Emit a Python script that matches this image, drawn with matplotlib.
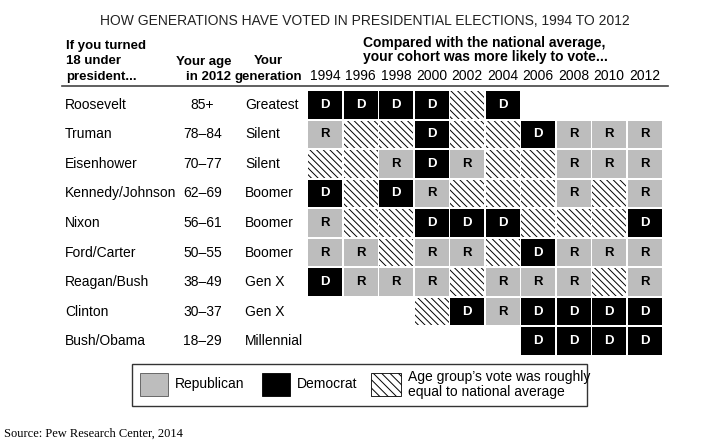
import matplotlib
matplotlib.use("Agg")
import matplotlib.pyplot as plt
from matplotlib.patches import Rectangle
from matplotlib.transforms import blended_transform_factory

# data: R = Republican, D = Democrat, E = roughly equal, '' = no data
years = ['1994', '1996', '1998', '2000', '2002', '2004', '2006', '2008', '2010', '2012']
presidents = ['Roosevelt', 'Truman', 'Eisenhower', 'Kennedy/Johnson', 'Nixon',
              'Ford/Carter', 'Reagan/Bush', 'Clinton', 'Bush/Obama']
ages = ['85+', '78\u201384', '70\u201377', '62\u201369', '56\u201361',
        '50\u201355', '38\u201349', '30\u201337', '18\u201329']
generations = ['Greatest', 'Silent', 'Silent', 'Boomer', 'Boomer',
               'Boomer', 'Gen X', 'Gen X', 'Millennial']
votes = [
    ['D', 'D', 'D', 'D', 'E', 'D', '', '', '', ''],
    ['R', 'E', 'E', 'D', 'E', 'E', 'D', 'R', 'R', 'R'],
    ['E', 'E', 'R', 'D', 'R', 'E', 'E', 'R', 'R', 'R'],
    ['D', 'E', 'D', 'R', 'E', 'E', 'E', 'R', 'E', 'R'],
    ['R', 'E', 'E', 'D', 'D', 'D', 'E', 'E', 'E', 'D'],
    ['R', 'R', 'E', 'R', 'R', 'E', 'D', 'R', 'R', 'R'],
    ['D', 'R', 'R', 'R', 'E', 'R', 'R', 'R', 'E', 'R'],
    ['', '', '', 'E', 'D', 'R', 'D', 'D', 'D', 'D'],
    ['', '', '', '', '', '', 'D', 'D', 'D', 'D'],
]

GRAY = '#bdbdbd'
HATCH = '\\\\\\\\\\'
W, H = 715, 442

plt.rcParams['font.family'] = ['Liberation Sans', 'DejaVu Sans']
plt.rcParams['hatch.linewidth'] = 0.7

fig = plt.figure(figsize=(W / 100, H / 100), dpi=100)


# pixel helpers for the text layout
def fx(px):
    return px / W


def fy(py):
    return 1 - py / H


# grid axes: columns are years, rows are cohorts
ax = fig.add_axes([fx(307.5), fy(356), (662.5 - 307.5) / W, (356 - 90) / H])
ax.set_xlim(-0.5, len(years) - 0.5)
ax.set_ylim(len(presidents) - 0.5, -0.5)
ax.axis('off')

cw, ch = 0.945, 0.93
for i, row in enumerate(votes):
    for j, v in enumerate(row):
        if v == '':
            continue
        if v == 'E':
            ax.add_patch(Rectangle((j - cw / 2, i - ch / 2), cw, ch, facecolor='white',
                                   edgecolor='black', linewidth=0, hatch=HATCH))
        else:
            fc = 'black' if v == 'D' else GRAY
            tc = 'white' if v == 'D' else 'black'
            ax.add_patch(Rectangle((j - cw / 2, i - ch / 2), cw, ch, facecolor=fc,
                                   edgecolor='none'))
            ax.text(j, i, v, ha='center', va='center', fontsize=9.5,
                    fontweight='bold', color=tc)

# row labels in figure-x / data-y coordinates
tr = blended_transform_factory(fig.transFigure, ax.transData)
for i in range(len(presidents)):
    ax.text(fx(65), i, presidents[i], transform=tr, ha='left', va='center', fontsize=10)
    ax.text(fx(202.5), i, ages[i], transform=tr, ha='center', va='center', fontsize=10)
    ax.text(fx(245), i, generations[i], transform=tr, ha='left', va='center', fontsize=10)

# year header
trx = blended_transform_factory(ax.transData, fig.transFigure)
for j, y in enumerate(years):
    ax.text(j, fy(79.5), y, transform=trx, ha='center', va='baseline', fontsize=10)

# titles and headers
fig.text(fx(365), fy(25), 'HOW GENERATIONS HAVE VOTED IN PRESIDENTIAL ELECTIONS, 1994 TO 2012',
         ha='center', va='baseline', fontsize=10, color='#222222')
hb = dict(fontsize=9.5, fontweight='bold', va='baseline')
fig.text(fx(66), fy(49), 'If you turned', **hb)
fig.text(fx(66), fy(64.5), '18 under', **hb)
fig.text(fx(66), fy(80), 'president...', **hb)
fig.text(fx(231.5), fy(64.5), 'Your age', ha='right', **hb)
fig.text(fx(231.5), fy(80), 'in 2012', ha='right', **hb)
fig.text(fx(268.5), fy(64.5), 'Your', ha='center', **hb)
fig.text(fx(268.5), fy(80), 'generation', ha='center', **hb)
fig.text(fx(363.5), fy(46.5), 'Compared with the national average,', fontsize=10,
         fontweight='bold', va='baseline')
fig.text(fx(363.5), fy(61.5), 'your cohort was more likely to vote...', fontsize=10,
         fontweight='bold', va='baseline')

fig.add_artist(plt.Line2D([fx(62), fx(668)], [fy(85.5), fy(85.5)], color='#444444',
                          linewidth=1.2, transform=fig.transFigure))

# legend box
fig.patches.append(Rectangle((fx(132), fy(405.5)), (587 - 132) / W, (405.5 - 364) / H,
                             transform=fig.transFigure, facecolor='white',
                             edgecolor='#333333', linewidth=1.0))
sw, sh = 28 / W, 23 / H
fig.patches.append(Rectangle((fx(140), fy(395.5)), sw, sh, transform=fig.transFigure,
                             facecolor=GRAY, edgecolor='#555555', linewidth=0.6))
fig.patches.append(Rectangle((fx(262), fy(395.5)), sw, sh, transform=fig.transFigure,
                             facecolor='black', edgecolor='black', linewidth=0.6))
fig.patches.append(Rectangle((fx(371), fy(395.5)), 30 / W, sh, transform=fig.transFigure,
                             facecolor='white', edgecolor='black', linewidth=0.6,
                             hatch='\\\\\\\\'))
fig.text(fx(175), fy(384), 'Republican', fontsize=10, va='center')
fig.text(fx(297), fy(384), 'Democrat', fontsize=10, va='center')
fig.text(fx(408), fy(384.5), 'Age group\u2019s vote was roughly\nequal to national average',
         fontsize=10, va='center', linespacing=1.15)

fig.text(fx(4), fy(437), 'Source: Pew Research Center, 2014', fontsize=9,
         family=['Liberation Serif', 'DejaVu Serif'], va='baseline')

fig.savefig('out.png', dpi=100)
